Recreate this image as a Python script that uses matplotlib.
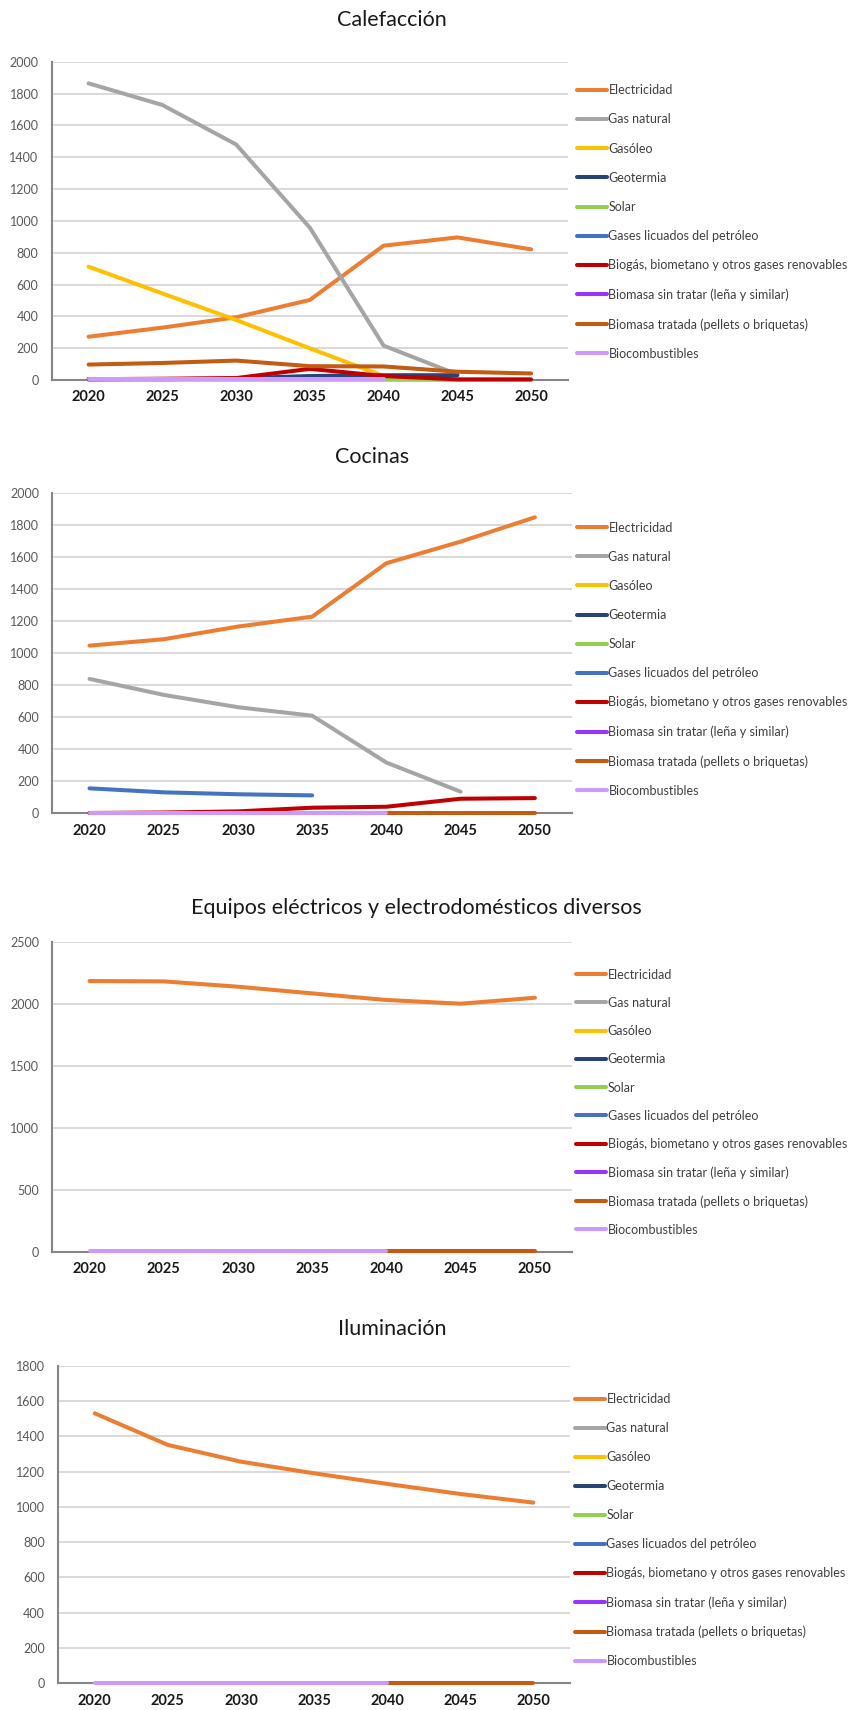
import numpy as np
import matplotlib
matplotlib.use("Agg")
import matplotlib.pyplot as plt

W, H, DPI = 856, 1710, 100
plt.rcParams['font.family'] = ['Lato', 'DejaVu Sans']

nan = np.nan
years = ["2020", "2025", "2030", "2035", "2040", "2045", "2050"]
series_names = [
    "Electricidad", "Gas natural", "Gasóleo", "Geotermia", "Solar",
    "Gases licuados del petróleo", "Biogás, biometano y otros gases renovables",
    "Biomasa sin tratar (leña y similar)", "Biomasa tratada (pellets o briquetas)",
    "Biocombustibles",
]
series_colors = ["#ED7D31", "#A5A5A5", "#FFC000", "#264478", "#92D050",
                 "#4472C4", "#C00000", "#9933FF", "#C55A11", "#CC99FF"]

# --- Calefacción ---
calef_electricidad = [272, 329, 394, 503, 844, 896, 821]
calef_gas_natural = [1864, 1728, 1480, 957, 216, 35, nan]
calef_gasoleo = [712, 544, 377, 199, 25, nan, nan]
calef_geotermia = [5, 5, 10, 25, 30, 30, nan]
calef_solar = [2, 2, 2, 2, 2, 1, 1]
calef_glp = [nan] * 7
calef_biogas = [5, 8, 12, 70, 25, 4, 4]
calef_biomasa_sin = [nan] * 7
calef_biomasa_tratada = [97, 107, 122, 87, 85, 52, 41]
calef_biocomb = [5, 5, 5, 5, 5, nan, nan]

# --- Cocinas ---
coc_electricidad = [1048, 1088, 1167, 1229, 1563, 1698, 1850]
coc_gas_natural = [840, 740, 663, 610, 317, 135, nan]
coc_gasoleo = [nan] * 7
coc_geotermia = [nan] * 7
coc_solar = [nan] * 7
coc_glp = [156, 131, 119, 112, nan, nan, nan]
coc_biogas = [2, 5, 12, 35, 41, 91, 95]
coc_biomasa_sin = [nan] * 7
coc_biomasa_tratada = [nan, nan, nan, nan, 3, 3, 3]
coc_biocomb = [3, 3, 3, 3, 3, nan, nan]

# --- Equipos eléctricos y electrodomésticos diversos ---
eq_electricidad = [2183, 2180, 2137, 2083, 2030, 2000, 2048]
eq_biomasa_tratada = [nan, nan, nan, nan, 3, 3, 3]
eq_biocomb = [3, 3, 3, 3, 3, nan, nan]

# --- Iluminación ---
il_electricidad = [1530, 1351, 1256, 1190, 1130, 1073, 1024]
il_biomasa_tratada = [nan, nan, nan, nan, 3, 3, 3]
il_biocomb = [3, 3, 3, 3, 3, nan, nan]

empty = [nan] * 7

charts = [
    dict(title="Calefacción", title_xy=(392, 20), ymax=2000, ystep=200,
         box=(51.7, 568, 61.7, 380), leg=(577, 222), legsp=29.2,
         data=[calef_electricidad, calef_gas_natural, calef_gasoleo, calef_geotermia,
               calef_solar, calef_glp, calef_biogas, calef_biomasa_sin,
               calef_biomasa_tratada, calef_biocomb]),
    dict(title="Cocinas", title_xy=(372, 457), ymax=2000, ystep=200,
         box=(52.4, 572, 493.3, 813.3), leg=(577, 659.2), legsp=29.2,
         data=[coc_electricidad, coc_gas_natural, coc_gasoleo, coc_geotermia,
               coc_solar, coc_glp, coc_biogas, coc_biomasa_sin,
               coc_biomasa_tratada, coc_biocomb]),
    dict(title="Equipos eléctricos y electrodomésticos diversos", title_xy=(416, 908),
         ymax=2500, ystep=500,
         box=(52.4, 572, 941.7, 1251.7), leg=(576, 1102.2), legsp=28.3,
         data=[eq_electricidad, empty, empty, empty, empty, empty, empty, empty,
               eq_biomasa_tratada, eq_biocomb]),
    dict(title="Iluminación", title_xy=(392, 1329), ymax=1800, ystep=200,
         box=(58.2, 570, 1365.7, 1683.3), leg=(575, 1530.2), legsp=29.1,
         data=[il_electricidad, empty, empty, empty, empty, empty, empty, empty,
               il_biomasa_tratada, il_biocomb]),
]

fig = plt.figure(figsize=(W / DPI, H / DPI), dpi=DPI)
x = np.arange(len(years))
LW = 2.9

for ch in charts:
    l, r, t, b = ch["box"]
    ax = fig.add_axes([l / W, 1 - b / H, (r - l) / W, (b - t) / H])
    handles = []
    for name, col, vals in zip(series_names, series_colors, ch["data"]):
        h, = ax.plot(x, vals, color=col, lw=LW, solid_capstyle='round',
                     clip_on=False, zorder=3, label=name)
        handles.append(h)
    ax.set_xlim(-0.5, len(years) - 0.5)
    ax.set_ylim(0, ch["ymax"])
    ax.set_yticks(np.arange(0, ch["ymax"] + 1, ch["ystep"]))
    ax.set_xticks(x)
    ax.set_xticklabels(years, fontweight='bold', fontsize=10.5, color='#1a1a1a')
    ax.tick_params(axis='y', length=0, pad=9.5, labelsize=9, labelcolor='#595959')
    ax.tick_params(axis='x', length=0, pad=7.5)
    ax.grid(axis='y', color='#D0D0D0', lw=1.1, zorder=0)
    ax.set_axisbelow(True)
    for s in ['top', 'right']:
        ax.spines[s].set_visible(False)
    for s in ['left', 'bottom']:
        ax.spines[s].set_color('#868686')
        ax.spines[s].set_linewidth(1.5)
        ax.spines[s].set_zorder(2)
    fs = 9.0
    fpx = fs * DPI / 72
    lx, ly = ch["leg"]
    leg = fig.legend(handles=handles, loc='center left',
                     bbox_to_anchor=(lx / W, 1 - ly / H),
                     frameon=False, fontsize=fs, borderpad=0, borderaxespad=0,
                     handlelength=30 / fpx, handletextpad=0.12,
                     labelspacing=(ch["legsp"] - 0.965 * fpx) / fpx)
    for txt in leg.get_texts():
        txt.set_color('#404040')
    for lh in leg.get_lines():
        lh.set_linewidth(LW)
    tx, ty = ch["title_xy"]
    fig.text(tx / W, 1 - ty / H, ch["title"], ha='center', va='center',
             fontsize=15.5, color='#1a1a1a')

fig.savefig("out.png", dpi=DPI)
